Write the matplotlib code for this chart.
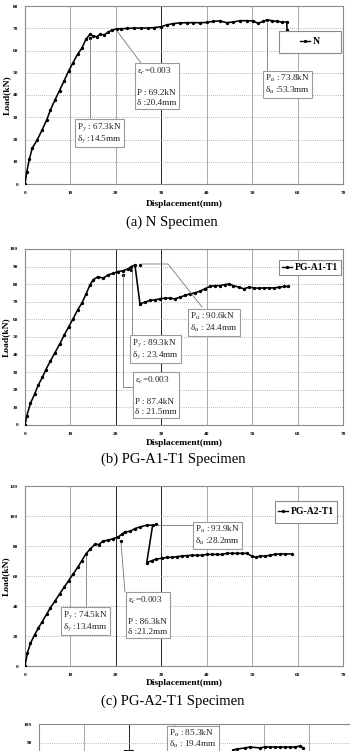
import matplotlib
matplotlib.use('Agg')
import matplotlib.pyplot as plt
from matplotlib.patches import Rectangle
from matplotlib.lines import Line2D

plt.rcParams['font.family'] = ['Liberation Serif', 'DejaVu Serif']
plt.rcParams['mathtext.fontset'] = 'stix'

# ---------------- data ----------------
n_x = [0, 0.37, 0.95, 1.6, 2.7, 3.8, 4.8, 5.6, 6.6, 7.6, 8.6, 9.6, 10.6, 11.6, 12.5, 13.4,
       14.3, 15.0, 15.8, 16.5, 17.4, 18.3, 19.1, 20.2, 21.2, 22.5, 24.0, 25.5, 27.0, 28.5,
       30.0, 31.2, 32.6, 34.1, 35.6, 37.0, 38.5, 40.0, 41.4, 42.9, 44.4, 45.8, 47.3, 48.8,
       50.2, 51.3, 52.4, 53.3, 54.3, 55.4, 56.5, 57.6, 57.7]
n_y = [0, 5.2, 11.2, 16.1, 19.9, 24.4, 28.9, 33.3, 37.8, 42.0, 46.3, 50.8, 54.6, 58.4, 61.0, 65.0,
       67.3, 66.5, 66.2, 67.3, 67.0, 68.2, 69.2, 69.7, 69.8, 69.9, 70.1, 70.1, 70.1, 70.3,
       70.7, 71.5, 72.1, 72.4, 72.5, 72.5, 72.5, 72.6, 73.1, 73.3, 72.5, 72.8, 73.4, 73.4,
       73.3, 72.2, 73.1, 73.8, 73.4, 73.1, 72.8, 72.8, 69.2]
n_lone_x = [14.3]
n_lone_y = [65.6]

a1_x = [0, 0.4, 1.2, 2.1, 2.9, 3.8, 4.6, 5.6, 6.6, 7.6, 8.6, 9.6, 10.6, 11.6, 12.5, 13.4,
        14.3, 15.0, 16.1, 17.2, 18.3, 19.4, 20.5, 21.6, 22.7, 23.4, 24.2, 25.3, 26.4, 27.5,
        28.6, 29.7, 30.8, 31.9, 33.0, 34.1, 35.2, 36.3, 37.4, 38.5, 39.6, 40.7, 41.8, 42.9,
        44.0, 45.0, 45.8, 47.1, 48.2, 49.3, 50.4, 51.5, 52.6, 53.7, 54.8, 55.9, 57.0, 57.9]
a1_y = [0, 5.3, 12.3, 17.5, 22.6, 27.0, 31.5, 36.4, 41.1, 45.8, 50.9, 55.7, 60.4, 65.5, 69.2, 74.2,
        79.6, 82.5, 84.3, 83.4, 85.3, 86.2, 87.2, 87.7, 88.7, 90.0, 90.9, 68.9, 69.8, 70.8,
        71.1, 71.7, 72.1, 72.1, 71.7, 72.6, 73.6, 74.5, 75.1, 76.0, 77.4, 78.7, 79.2, 79.2,
        79.8, 80.2, 79.2, 78.3, 77.4, 78.3, 77.9, 77.7, 77.9, 77.9, 77.9, 78.3, 78.7, 78.7]
a1_lone_x = [25.4, 21.5, 23.4]
a1_lone_y = [90.9, 85.3, 88.0]

a2_x = [0, 0.5, 1.2, 2.1, 2.9, 3.8, 4.8, 5.6, 6.6, 7.6, 8.6, 9.6, 10.6, 11.6, 12.5, 13.4,
        14.3, 15.4, 16.3, 17.2, 18.3, 19.4, 20.5, 21.3, 22.0, 23.1, 24.2, 25.3, 26.8, 28.1,
        26.8, 27.9, 28.9, 30.1, 31.2, 32.3, 33.4, 34.5, 35.6, 36.7, 37.8, 38.9, 40.0, 41.1,
        42.2, 43.3, 44.4, 45.5, 46.6, 47.7, 48.8, 49.9, 50.8, 51.7, 52.8, 53.9, 55.0, 56.1,
        57.2, 58.7]
a2_y = [0, 8.4, 15.1, 20.7, 25.1, 29.6, 34.7, 38.9, 43.3, 48.0, 52.4, 56.9, 61.3, 65.8, 70.2, 74.7,
        77.8, 81.2, 81.0, 83.4, 83.8, 84.9, 86.0, 87.8, 89.4, 89.8, 91.6, 92.7, 93.9, 93.9,
        68.9, 70.2, 71.3, 71.8, 72.4, 72.4, 72.9, 73.3, 73.6, 73.8, 73.8, 73.8, 74.4, 74.4,
        74.4, 74.4, 75.1, 75.1, 75.1, 75.1, 75.1, 73.3, 72.4, 73.3, 73.3, 73.8, 74.4, 74.7,
        74.7, 74.7]
a2_lone_x = [28.9, 21.1]
a2_lone_y = [94.7, 83.5]

# bottom (cropped) panel: only the top edge is visible
a3_x = [19.1, 20.7, 43.1, 44.0, 45.8, 46.9, 49.1, 50.2, 51.3, 52.4, 53.6, 54.7, 55.8, 56.9, 58.0, 58.7]
a3_y = [85.6, 85.6, 86.3, 86.8, 87.4, 87.9, 87.4, 87.9, 87.9, 87.9, 87.9, 87.9, 87.9, 87.9, 88.4, 87.4]

labels = ['N', 'PG-A1-T1', 'PG-A2-T1']
captions = ['(a) N Specimen', '(b) PG-A1-T1 Specimen', '(c) PG-A2-T1 Specimen']

# ---------------- layout helpers ----------------
W, H = 350, 751
fig = plt.figure(figsize=(3.5, 7.51), dpi=100)


def fx(x):
    return x / W


def fy(y):
    return 1 - y / H


def make_axes(left, right, top, bottom):
    return fig.add_axes([fx(left), fy(bottom), fx(right - left), (bottom - top) / H])


def style(ax, ymax, ystep, dark_x):
    ax.set_xlim(0, 70)
    ax.set_ylim(0, ymax)
    ax.set_xticks(range(0, 71, 10))
    ax.set_yticks(range(0, ymax + 1, ystep))
    for s in ax.spines.values():
        s.set_color('#8a8a8a')
        s.set_linewidth(0.8)
    for xv in range(10, 70, 10):
        c = '#222222' if xv in dark_x else '#9a9a9a'
        ax.axvline(xv, color=c, lw=0.7 if xv in dark_x else 0.6, zorder=1)
    for yv in range(ystep, ymax, ystep):
        ax.axhline(yv, color='#a0a0a0', lw=0.6, ls=(0, (1, 1.5)), zorder=1)
    ax.tick_params(length=0, labelsize=3.8, pad=5)
    for t in ax.get_xticklabels() + ax.get_yticklabels():
        t.set_fontweight('bold')


def curve(ax, x, y):
    ax.plot(x, y, color='black', lw=1.15, marker='.', ms=2.8, zorder=3)


def lone(ax, x, y):
    ax.plot(x, y, ls='none', color='black', marker='.', ms=2.8, zorder=3)


def box(left, top, text, ls=1.05, fs=6.6):
    pad = 0.25 * fs / 72 * 100
    fig.text(fx(left + pad + 0.8), fy(top + pad + 0.8), text, ha='left', va='top',
             fontsize=fs, linespacing=ls, color='#222222',
             bbox=dict(boxstyle='square,pad=0.25', fc='white', ec='#9a9a9a', lw=0.8),
             zorder=10)


def leader(pts):
    xs = [fx(p[0]) for p in pts]
    ys = [fy(p[1]) for p in pts]
    fig.add_artist(Line2D(xs, ys, transform=fig.transFigure, color='#777777', lw=0.6, zorder=5))


def legend_box(ax, l, t, r, b, label):
    rect = Rectangle((fx(l), fy(b)), fx(r - l), (b - t) / H, transform=fig.transFigure,
                     fc='white', ec='#8a8a8a', lw=0.8, zorder=8, clip_on=False)
    ax.add_patch(rect)
    h = Line2D([], [], color='black', lw=1.0, marker='.', ms=2.6)
    leg = ax.legend([h], [label], loc='center', bbox_to_anchor=(fx((l + r) / 2), fy((t + b) / 2)),
                    bbox_transform=fig.transFigure, frameon=False, handlelength=1.1,
                    handletextpad=0.3, borderpad=0.1, prop=dict(size=7, weight='bold'))
    leg.set_zorder(9)


# ---------------- panel (a) ----------------
ax1 = make_axes(25, 343, 6, 184)
style(ax1, 80, 10, [30])
curve(ax1, n_x, n_y)
lone(ax1, n_lone_x, n_lone_y)
fig.text(fx(7), fy(95), 'Load(kN)', rotation=90, ha='center', va='center', fontsize=6.8, fontweight='bold')
fig.text(fx(184), fy(204), 'Displacement(mm)', ha='center', va='center', fontsize=6.8, fontweight='bold')
fig.text(fx(172), fy(222), captions[0], ha='center', va='center', fontsize=10.5)
legend_box(ax1, 279, 31, 341, 53, labels[0])
leader([(90, 118), (90, 39)])
leader([(141, 63), (117, 31)])
leader([(267, 70), (267, 23)])
box(74, 118, 'P$_y$ : 67.3kN\nδ$_y$ :14.5mm')
box(134, 63, 'ε$_c$=0.003\n\nP : 69.2kN\nδ :20.4mm', ls=1.3)
box(262, 70, 'P$_u$ : 73.8kN\nδ$_u$ :53.3mm')

# ---------------- panel (b) ----------------
ax2 = make_axes(25, 343, 249, 425)
style(ax2, 100, 10, [20, 30])
curve(ax2, a1_x, a1_y)
lone(ax2, a1_lone_x, a1_lone_y)
fig.text(fx(6), fy(337), 'Load(kN)', rotation=90, ha='center', va='center', fontsize=6.8, fontweight='bold')
fig.text(fx(184), fy(443), 'Displacement(mm)', ha='center', va='center', fontsize=6.8, fontweight='bold')
fig.text(fx(173), fy(459), captions[1], ha='center', va='center', fontsize=10.5)
legend_box(ax2, 279, 260, 341, 275, labels[1])
leader([(142, 264), (168, 264), (202, 307)])
leader([(132, 334), (132, 268)])
leader([(132, 387), (123, 387), (123, 275)])
box(187, 308, 'P$_u$ : 90.6kN\nδ$_u$ : 24.4mm')
box(129, 334, 'P$_y$ : 89.3kN\nδ$_y$ : 23.4mm')
box(132, 372, 'ε$_c$=0.003\n\nP : 87.4kN\nδ : 21.5mm', ls=1.3)

# ---------------- panel (c) ----------------
ax3 = make_axes(25, 343, 486, 666)
style(ax3, 120, 20, [20, 30])
curve(ax3, a2_x, a2_y)
lone(ax3, a2_lone_x, a2_lone_y)
fig.text(fx(6), fy(576), 'Load(kN)', rotation=90, ha='center', va='center', fontsize=6.8, fontweight='bold')
fig.text(fx(184), fy(683), 'Displacement(mm)', ha='center', va='center', fontsize=6.8, fontweight='bold')
fig.text(fx(173), fy(701), captions[2], ha='center', va='center', fontsize=10.5)
legend_box(ax3, 275, 501, 337, 523, labels[2])
leader([(157, 525), (192, 525)])
leader([(86, 606), (86, 556)])
leader([(125, 592), (121, 543)])
box(192, 521, 'P$_u$ : 93.9kN\nδ$_u$ :28.2mm')
box(60, 606, 'P$_y$ : 74.5kN\nδ$_y$ :13.4mm')
box(125, 592, 'ε$_c$=0.003\n\nP : 86.3kN\nδ :21.2mm', ls=1.3)

# ---------------- panel (d), cropped at the bottom edge ----------------
ax4 = make_axes(39, 354, 724, 914)
style(ax4, 100, 10, [20])
ax4.tick_params(labelbottom=False)
ax4.set_yticks([90, 100])
ax4.set_yticklabels(['90', '100'], fontweight='bold')
curve(ax4, a3_x[:2], a3_y[:2])
curve(ax4, a3_x[2:], a3_y[2:])
box(166, 725, 'P$_u$ : 85.3kN\nδ$_u$ : 19.4mm', ls=1.0)

fig.savefig('out.png', dpi=100)
